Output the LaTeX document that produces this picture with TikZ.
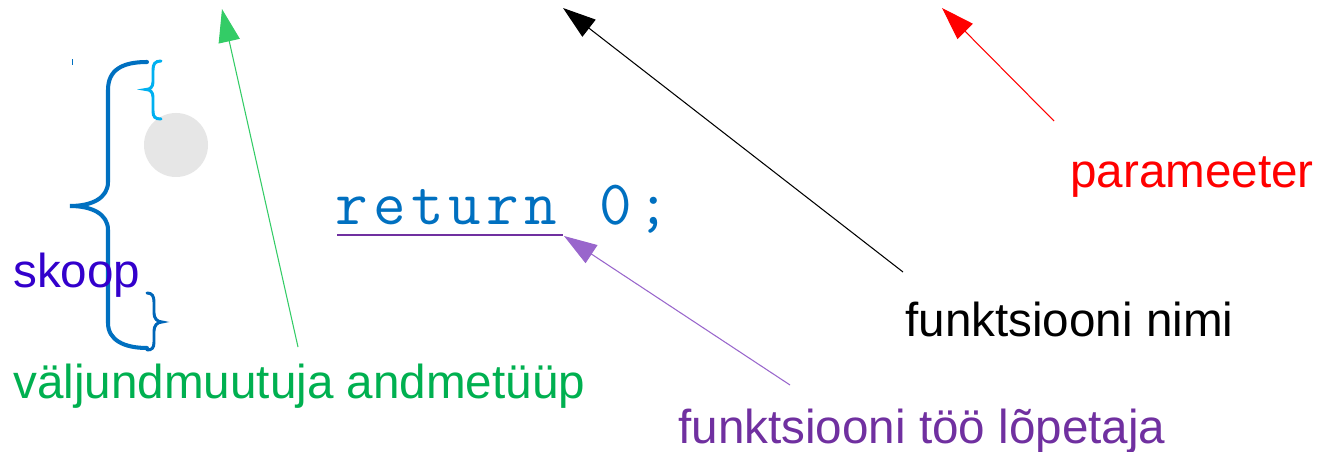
\documentclass[tikz,border=0pt]{standalone}
\usepackage{fontspec}
\setmainfont{Liberation Sans}
\usetikzlibrary{arrows.meta}
\definecolor{codeblue}{HTML}{0070C0}
\definecolor{lightblue}{HTML}{00B0F0}
\definecolor{darkblue}{HTML}{0066B8}
\definecolor{skoopc}{HTML}{3300CC}
\definecolor{greentxt}{HTML}{00B050}
\definecolor{greenarr}{HTML}{33CC66}
\definecolor{purptxt}{HTML}{7030A0}
\definecolor{purparr}{HTML}{9966CC}
\definecolor{circgray}{HTML}{E6E6E6}
\newlength\codecw
\setlength\codecw{0.754cm}
\newcommand\cc[1]{\makebox[\codecw][c]{#1}}
\begin{document}
\begin{tikzpicture}[x=0.02cm,y=-0.02cm,
  lbl/.style={font=\fontsize{27.1}{32}\selectfont, inner sep=0, anchor=base west},
  ptr/.style={line width=0.6pt,-{Triangle[length=0.66cm,width=0.43cm]}},
  bracebig/.style={line width=2.3pt, line cap=round, codeblue},
  bracesmall/.style={line width=1.7pt, line cap=round}]
\useasboundingbox (0,0) rectangle (1317,452);
\fill[white] (0,0) rectangle (1317,452);

% gray circle and tiny mark
\fill[circgray] (176,145) circle[radius=32];
\fill[codeblue] (71.5,59) rectangle (73,65);

% big brace
\draw[bracebig] (147,62) .. controls (122,62) and (108,70) .. (108,90) -- (108,182)
  .. controls (108,198) and (92,206) .. (70,206)
  .. controls (92,206) and (108,214) .. (108,230) -- (108,323)
  .. controls (108,340) and (124,348) .. (147,348);
% small top brace
\draw[bracesmall, lightblue] (161,61) .. controls (155,61) and (153,64) .. (153,70) -- (153,82)
  .. controls (153,87) and (150,89.5) .. (146,89.5)
  .. controls (150,89.5) and (153,92) .. (153,97) -- (153,111)
  .. controls (153,117) and (155,119) .. (161,119);
% small bottom brace
\draw[bracesmall, darkblue] (147,293) .. controls (152,293) and (154,296) .. (154,302) -- (154,313)
  .. controls (154,318) and (157,322) .. (162,322)
  .. controls (157,322) and (154,326) .. (154,331) -- (154,342)
  .. controls (154,348) and (152,350) .. (147,350);

% texts
\node[lbl, text=skoopc] (skoop) at (13,288) {skoop};
\node[lbl, text=greentxt] (valj) at (13,398) {väljundmuutuja andmetüüp};
\node[lbl, text=red] (param) at (1070,188) {parameeter};
\node[lbl, text=black] (fnimi) at (905,337) {funktsiooni nimi};
\node[lbl, text=purptxt] (flop) at (678,443) {funktsiooni töö lõpetaja};
\node[inner sep=0, anchor=base west, text=codeblue, font=\ttfamily\fontsize{36}{40}\selectfont] (code) at (333,225) {\cc{r}\cc{e}\cc{t}\cc{u}\cc{r}\cc{n}\cc{ }\cc{0}\cc{;}};

% underline of return
\coordinate (ul1) at (337,235);
\coordinate (ul2) at (563,235);
\draw[purptxt, line width=1.7pt] (ul1) -- (ul2);

% arrow end points
\coordinate (gS) at (298,347);
\coordinate (gT) at (222,9);
\coordinate (bS) at (903,272);
\coordinate (bT) at (563,8);
\coordinate (rS) at (1054,121);
\coordinate (rT) at (942,8);
\coordinate (pS) at (790,385);
\coordinate (pT) at (564,236);

\draw[ptr, greenarr] (gS) -- (gT);
\draw[ptr, black] (bS) -- (bT);
\draw[ptr, red] (rS) -- (rT);
\draw[ptr, purparr] (pS) -- (pT);
\end{tikzpicture}
\end{document}
